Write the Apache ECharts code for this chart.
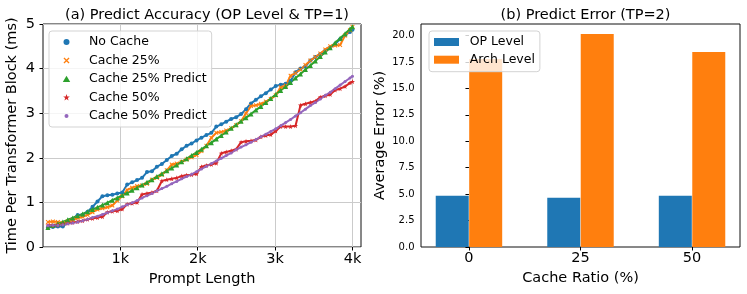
<!DOCTYPE html>
<html><head><meta charset="utf-8">
<script src="https://cdn.jsdelivr.net/npm/echarts@6/dist/echarts.min.js"></script>
<style>html,body{margin:0;padding:0;background:#fff}#c{width:747px;height:294px}</style>
</head><body><div id="c"></div>
<script>
// ---------- data: (a) Predict Accuracy ----------
const promptLengths = [64,128,192,256,320,384,448,512,576,640,704,768,832,896,960,1024,1088,1152,1216,1280,1344,1408,1472,1536,1600,1664,1728,1792,1856,1920,1984,2048,2112,2176,2240,2304,2368,2432,2496,2560,2624,2688,2752,2816,2880,2944,3008,3072,3136,3200,3264,3328,3392,3456,3520,3584,3648,3712,3776,3840,3904,3968,4000];
const noCache = [0.44,0.45,0.46,0.46,0.55,0.63,0.72,0.72,0.79,0.90,1.02,1.14,1.16,1.17,1.20,1.22,1.40,1.45,1.50,1.55,1.68,1.70,1.80,1.86,1.95,2.04,2.09,2.19,2.27,2.32,2.39,2.45,2.51,2.56,2.70,2.75,2.81,2.87,2.91,2.98,3.09,3.22,3.30,3.38,3.45,3.53,3.61,3.64,3.66,3.72,3.92,4.00,4.05,4.18,4.26,4.32,4.40,4.47,4.55,4.66,4.75,4.82,4.87];
const cache25 = [0.56,0.57,0.56,0.54,0.57,0.61,0.65,0.68,0.72,0.78,0.84,0.87,0.89,0.93,1.04,1.14,1.28,1.33,1.37,1.38,1.42,1.51,1.55,1.62,1.72,1.85,1.87,1.91,1.96,2.01,2.06,2.15,2.27,2.45,2.56,2.58,2.61,2.66,2.73,2.82,3.00,3.16,3.18,3.21,3.26,3.32,3.40,3.58,3.62,3.84,3.90,3.98,4.08,4.18,4.26,4.34,4.43,4.50,4.52,4.53,4.74,4.86,4.94];
const cache25Predict = [0.44,0.48,0.52,0.56,0.61,0.65,0.70,0.74,0.79,0.84,0.89,0.94,0.99,1.05,1.10,1.16,1.21,1.27,1.33,1.39,1.45,1.51,1.58,1.64,1.71,1.77,1.84,1.91,1.98,2.05,2.12,2.19,2.27,2.34,2.42,2.50,2.58,2.66,2.74,2.82,2.90,2.98,3.07,3.15,3.24,3.33,3.42,3.51,3.60,3.69,3.79,3.88,3.98,4.07,4.17,4.27,4.37,4.47,4.58,4.68,4.78,4.89,4.94];
const cache50 = [0.49,0.49,0.49,0.51,0.53,0.55,0.57,0.59,0.62,0.64,0.66,0.68,0.78,0.80,0.81,0.85,0.96,0.98,1.00,1.18,1.20,1.22,1.26,1.48,1.51,1.53,1.55,1.59,1.61,1.62,1.64,1.80,1.83,1.85,1.88,2.10,2.13,2.16,2.19,2.35,2.37,2.38,2.40,2.47,2.50,2.52,2.60,2.70,2.70,2.70,2.72,3.18,3.21,3.24,3.27,3.36,3.39,3.42,3.52,3.55,3.60,3.68,3.71];
const cache50Predict = [0.48,0.49,0.49,0.50,0.52,0.54,0.56,0.59,0.62,0.66,0.69,0.73,0.77,0.81,0.85,0.90,0.95,0.99,1.04,1.10,1.15,1.20,1.26,1.31,1.36,1.42,1.47,1.53,1.58,1.63,1.69,1.75,1.81,1.87,1.93,1.99,2.05,2.11,2.18,2.24,2.29,2.35,2.41,2.47,2.53,2.59,2.65,2.72,2.79,2.86,2.94,3.01,3.09,3.17,3.24,3.32,3.40,3.47,3.55,3.63,3.71,3.79,3.83];
const xTicksA = [1000, 2000, 3000, 4000];
const xTickLabelsA = ['1k', '2k', '3k', '4k'];
const yTicksA = [0, 1, 2, 3, 4, 5];

// ---------- data: (b) Predict Error ----------
const cacheRatios = ['0', '25', '50'];
const opLevel = [4.85, 4.65, 4.86];
const archLevel = [17.8, 20.15, 18.45];
const yTicksB = [0, 2.5, 5, 7.5, 10, 12.5, 15, 17.5, 20];

// ---------- chart ----------
const FONT = 'DejaVu Sans';
const C = {blue:'#1f77b4', orange:'#ff7f0e', green:'#2ca02c', red:'#d62728', purple:'#9467bd'};
// line markers
const X_MARK = 'path://M0,1.6L1.6,0L5,3.4L8.4,0L10,1.6L6.6,5L10,8.4L8.4,10L5,6.6L1.6,10L0,8.4L3.4,5Z';
const TRI_MARK = 'path://M5,0L10,9L0,9Z';
const STAR_MARK = 'path://M5,0L6.18,3.38L9.76,3.45L6.9,5.62L7.94,9.05L5,7L2.06,9.05L3.1,5.62L0.24,3.45L3.82,3.38Z';
// legend icons: drawn in a 25x7 frame so that the marker sits in the middle
const FRAME = 'M0,0M25,7';
const L_CIRCLE = 'path://' + FRAME + 'M12.5,0.5A3,3,0,1,1,12.5,6.5A3,3,0,1,1,12.5,0.5Z';
const L_X = 'path://' + FRAME + 'M9.5,1.4L10.4,0.5L12.5,2.6L14.6,0.5L15.5,1.4L13.4,3.5L15.5,5.6L14.6,6.5L12.5,4.4L10.4,6.5L9.5,5.6L11.6,3.5Z';
const L_TRI = 'path://' + FRAME + 'M12.5,0.2L16.2,6.6L8.8,6.6Z';
const L_STAR = 'path://' + FRAME + 'M12.5,0.1L13.32,2.47L15.83,2.52L13.83,4.03L14.56,6.43L12.5,5L10.44,6.43L11.17,4.03L9.17,2.52L11.68,2.47Z';
const L_DOT = 'path://' + FRAME + 'M12.5,1.5A2,2,0,1,1,12.5,5.5A2,2,0,1,1,12.5,1.5Z';

const pairs = arr => promptLengths.map((x, i) => [x, arr[i]]);
const txt = (size) => ({fontFamily: FONT, fontSize: size, color: '#000'});

function lineSeries(name, arr, color, symbol, size) {
  return {
    name, type: 'line', xAxisIndex: 0, yAxisIndex: 0,
    data: pairs(arr), symbol, symbolSize: size, showSymbol: true,
    lineStyle: {width: 2, color}, itemStyle: {color, borderWidth: 0},
    emphasis: {disabled: true}, animation: false, clip: true
  };
}

const chart = echarts.init(document.getElementById('c'));
chart.setOption({
  animation: false,
  backgroundColor: '#fff',
  title: [
    {text: '(a) Predict Accuracy (OP Level & TP=1)', left: 202, top: 3, textAlign: 'center',
     textStyle: Object.assign(txt(14.5), {fontWeight: 'normal'})},
    {text: '(b) Predict Error (TP=2)', left: 580.5, top: 3, textAlign: 'center',
     textStyle: Object.assign(txt(14.5), {fontWeight: 'normal'})}
  ],
  grid: [
    {left: 43, top: 24, width: 318, height: 223, show: true, borderColor: '#111', borderWidth: 1, backgroundColor: 'transparent'},
    {left: 421, top: 24, width: 319, height: 223, show: true, borderColor: '#111', borderWidth: 1, backgroundColor: 'transparent'}
  ],
  legend: [
    {
      left: 49, top: 31, orient: 'vertical', selectedMode: false,
      padding: [4, 5, 4, 5], itemWidth: 25, itemHeight: 7, itemGap: 4.5,
      backgroundColor: 'rgba(255,255,255,0.8)', borderColor: '#d3d3d3', borderWidth: 1, borderRadius: 3,
      itemStyle: {borderWidth: 0},
      textStyle: Object.assign(txt(12.5), {lineHeight: 14, padding: [0, 0, 0, 5]}),
      data: [
        {name: 'No Cache', icon: L_CIRCLE},
        {name: 'Cache 25%', icon: L_X},
        {name: 'Cache 25% Predict', icon: L_TRI},
        {name: 'Cache 50%', icon: L_STAR},
        {name: 'Cache 50% Predict', icon: L_DOT}
      ]
    },
    {
      left: 429, top: 31, orient: 'vertical', selectedMode: false,
      padding: [4, 5, 5, 5], itemWidth: 25, itemHeight: 8, itemGap: 3.7,
      backgroundColor: 'rgba(255,255,255,0.8)', borderColor: '#d3d3d3', borderWidth: 1, borderRadius: 3,
      itemStyle: {borderWidth: 0},
      textStyle: Object.assign(txt(12.5), {lineHeight: 14, padding: [0, 0, 0, 5.7]}),
      data: [{name: 'OP Level', icon: 'rect'}, {name: 'Arch Level', icon: 'rect'}]
    }
  ],
  xAxis: [
    {
      gridIndex: 0, type: 'value', min: 0, max: 4110, interval: 1000,
      axisLine: {show: false},
      axisTick: {show: true, length: 3.5, customValues: xTicksA, lineStyle: {color: '#000', width: 1}},
      axisLabel: {customValues: xTicksA, formatter: v => xTickLabelsA[xTicksA.indexOf(v)], margin: 5, ...txt(14.5)},
      splitLine: {show: true, lineStyle: {color: '#cbcbcb', width: 1}},
      name: 'Prompt Length', nameLocation: 'middle', nameGap: 23, nameTextStyle: txt(14.5)
    },
    {
      gridIndex: 1, type: 'value', min: -0.43, max: 2.43,
      axisLine: {show: false},
      axisTick: {show: true, length: 3.5, customValues: [0, 1, 2], lineStyle: {color: '#000', width: 1}},
      axisLabel: {customValues: [0, 1, 2], formatter: v => cacheRatios[Math.round(v)], margin: 4, ...txt(14.5)},
      splitLine: {show: false},
      name: 'Cache Ratio (%)', nameLocation: 'middle', nameGap: 23, nameTextStyle: txt(14.5)
    }
  ],
  yAxis: [
    {
      gridIndex: 0, type: 'value', min: 0, max: 5, interval: 1,
      axisLine: {show: false},
      axisTick: {show: true, length: 3.5, customValues: yTicksA, lineStyle: {color: '#000', width: 1}},
      axisLabel: {customValues: yTicksA, margin: 8, ...txt(14.5)},
      splitLine: {show: true, lineStyle: {color: '#cbcbcb', width: 1}},
      name: 'Time Per Transformer Block (ms)', nameLocation: 'middle', nameGap: 23, nameTextStyle: txt(14.5)
    },
    {
      gridIndex: 1, type: 'value', min: 0, max: 21.1, interval: 2.5,
      axisLine: {show: false},
      axisTick: {show: true, length: 3.5, customValues: yTicksB, lineStyle: {color: '#000', width: 1}},
      axisLabel: {customValues: yTicksB, formatter: v => v.toFixed(1), margin: 6.5, ...txt(10)},
      splitLine: {show: false},
      name: 'Average Error (%)', nameLocation: 'middle', nameGap: 33, nameTextStyle: txt(14.5)
    }
  ],
  series: [
    lineSeries('No Cache', noCache, C.blue, 'circle', 4),
    lineSeries('Cache 25%', cache25, C.orange, X_MARK, 4.5),
    lineSeries('Cache 25% Predict', cache25Predict, C.green, TRI_MARK, 5),
    lineSeries('Cache 50%', cache50, C.red, STAR_MARK, 5),
    lineSeries('Cache 50% Predict', cache50Predict, C.purple, 'circle', 3),
    {
      name: 'OP Level', type: 'bar', xAxisIndex: 1, yAxisIndex: 1,
      data: cacheRatios.map((c, i) => [i - 0.15, opLevel[i]]),
      barWidth: 33, barGap: '-100%', itemStyle: {color: C.blue}, emphasis: {disabled: true}
    },
    {
      name: 'Arch Level', type: 'bar', xAxisIndex: 1, yAxisIndex: 1,
      data: cacheRatios.map((c, i) => [i + 0.15, archLevel[i]]),
      barWidth: 33, barGap: '-100%', itemStyle: {color: C.orange}, emphasis: {disabled: true}
    }
  ]
});
</script></body></html>
